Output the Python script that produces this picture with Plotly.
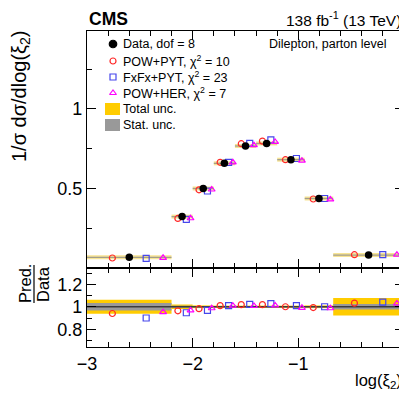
import plotly.graph_objects as go

# bins in log(xi_2)
bin_edges = [-3.0, -2.2, -2.0, -1.8, -1.6, -1.4, -1.2, -0.94, -0.67, 0.0]
data_vals = [0.067, 0.323, 0.500, 0.658, 0.767, 0.783, 0.681, 0.437, 0.081]
# relative uncertainties (ratio panel band half-heights)
tot_unc = [0.063, 0.020, 0.012, 0.010, 0.010, 0.010, 0.010, 0.012, 0.078]
stat_unc = [0.033, 0.010, 0.006, 0.005, 0.005, 0.005, 0.005, 0.006, 0.025]
# prediction / data
ratio_powpyt = [0.940, 0.964, 0.983, 1.010, 1.019, 1.019, 1.000, 0.993, 1.032]
ratio_fxfx = [0.900, 0.947, 0.968, 1.010, 1.022, 1.028, 1.011, 1.000, 1.041]
ratio_powher = [0.952, 0.968, 0.987, 1.010, 1.007, 1.012, 0.991, 0.987, 1.030]

models = [
    ("POW+PYT", ratio_powpyt, "circle-open", "rgb(255,40,40)", 0.3),
    ("FxFx+PYT", ratio_fxfx, "square-open", "rgb(70,70,235)", 0.7),
    ("POW+HER", ratio_powher, "triangle-up-open", "rgb(255,0,255)", 0.9),
]

GOLD = "rgb(255,204,0)"
GREY = "rgb(153,153,153)"
FONT = "Liberation Sans, Arial, sans-serif"

# the page body adds an 8px margin, so the figure is 8px smaller than the window
OFF = 8
W, H = 407 - OFF, 394 - OFF
# plot frame in window pixels
FX0, FX1, FY0, FY1 = 87, 404, 31, 347
L, R, T, B = FX0 - OFF, W + OFF - FX1, FY0 - OFF, H + OFF - FY1


def paper(x, y):
    """window pixel position -> paper coords"""
    return (x - FX0) / (FX1 - FX0), (FY1 - y) / (FY1 - FY0)


lo = bin_edges[:-1]
hi = bin_edges[1:]


def at(frac):
    return [a + frac * (b - a) for a, b in zip(lo, hi)]


fig = go.Figure()

# main panel: uncertainty bands drawn as thin strips across each bin
bx, by = [], []
for a, b, v in zip(lo, hi, data_vals):
    bx += [a, b, None]
    by += [v, v, None]
fig.add_trace(go.Scatter(x=bx, y=by, mode="lines", xaxis="x", yaxis="y",
                         line=dict(color="rgba(240,205,60,0.55)", width=4),
                         hoverinfo="skip", showlegend=False))
fig.add_trace(go.Scatter(x=bx, y=by, mode="lines", xaxis="x", yaxis="y",
                         line=dict(color="rgba(140,140,140,0.8)", width=1.3),
                         hoverinfo="skip", showlegend=False))

for name, ratio, sym, col, f in models:
    fig.add_trace(go.Scatter(
        x=at(f), y=[d * r for d, r in zip(data_vals, ratio)], mode="markers",
        xaxis="x", yaxis="y", showlegend=False,
        marker=dict(symbol=sym, size=6, color=col, line=dict(color=col, width=1.2))))

fig.add_trace(go.Scatter(x=at(0.5), y=data_vals, mode="markers", xaxis="x", yaxis="y",
                         marker=dict(symbol="circle", size=7.5, color="black"),
                         showlegend=False))

# ratio panel bands
for a, b, t, s in zip(lo, hi, tot_unc, stat_unc):
    for u, c in ((t, GOLD), (s, GREY)):
        fig.add_trace(go.Scatter(
            x=[a, b, b, a, a], y=[1 - u, 1 - u, 1 + u, 1 + u, 1 - u],
            xaxis="x2", yaxis="y2", mode="lines", fill="toself", fillcolor=c,
            line=dict(width=0), hoverinfo="skip", showlegend=False))
fig.add_trace(go.Scatter(x=[bin_edges[0], bin_edges[-1]], y=[1, 1], mode="lines",
                         xaxis="x2", yaxis="y2", line=dict(color="rgb(60,60,60)", width=1.5),
                         hoverinfo="skip", showlegend=False))
for name, ratio, sym, col, f in models:
    fig.add_trace(go.Scatter(
        x=at(f), y=ratio, mode="markers", xaxis="x2", yaxis="y2", showlegend=False,
        marker=dict(symbol=sym, size=6, color=col, line=dict(color=col, width=1.2))))

# hand-made legend (ROOT style)
leg_rows = [44, 61, 77, 93, 109, 125]
leg_text = ["Data, dof = 8", "POW+PYT, \u03c7<sup>2</sup> = 10",
            "FxFx+PYT, \u03c7<sup>2</sup> = 23", "POW+HER, \u03c7<sup>2</sup> = 7",
            "Total unc.", "Stat. unc."]
leg_marks = [("circle", 7.5, "black")] + [(m[2], 6, m[3]) for m in models]
for (sym, sz, col), yy in zip(leg_marks, leg_rows):
    px_, py_ = paper(113, yy)
    fig.add_trace(go.Scatter(x=[px_], y=[py_], mode="markers", xaxis="x3", yaxis="y3",
                             marker=dict(symbol=sym, size=sz, color=col,
                                         line=dict(color=col, width=1.2)),
                             showlegend=False, hoverinfo="skip"))
shapes = []
for yy, c in ((leg_rows[4], GOLD), (leg_rows[5], GREY)):
    x0, y0 = paper(105, yy - 6)
    x1, y1 = paper(120, yy + 6)
    shapes.append(dict(type="rect", xref="paper", yref="paper", x0=x0, x1=x1,
                       y0=y0, y1=y1, fillcolor=c, line=dict(width=0)))

annotations = []
for txt, yy in zip(leg_text, leg_rows):
    xx, yp = paper(121, yy)
    annotations.append(dict(x=xx, y=yp, xref="paper", yref="paper", text=txt,
                            showarrow=False, xanchor="left", yanchor="middle",
                            font=dict(size=12.5, color="black")))

def note(x, y, text, size, xanchor="center", yanchor="middle", angle=0):
    xx, yy = paper(x, y)
    annotations.append(dict(x=xx, y=yy, xref="paper", yref="paper", text=text,
                            showarrow=False, xanchor=xanchor, yanchor=yanchor,
                            textangle=angle, font=dict(size=size, color="black")))

note(87, 19, "<b>CMS</b>", 17.5, xanchor="left")
note(403, 19, "138 fb<sup>-1</sup> (13 TeV)", 15.5, xanchor="right")
note(388, 44, "Dilepton, parton level", 12.5, xanchor="right")
note(20, 96, "1/\u03c3 d\u03c3/dlog(\u03be<sub>2</sub>)", 20, angle=-90)
note(404, 381, "log(\u03be<sub>2</sub>)", 16.5, xanchor="right")
note(25, 284, "Pred.", 16.5, angle=-90)
note(43, 284, "Data", 16.5, angle=-90)
fx, fy0 = paper(34, 265)
_, fy1 = paper(34, 303)
shapes.append(dict(type="line", xref="paper", yref="paper", x0=fx, x1=fx, y0=fy0, y1=fy1,
                   line=dict(color="black", width=1.2)))

common_ax = dict(showline=True, linecolor="black", linewidth=1.2, mirror="allticks",
                 ticks="inside", tickcolor="black", tickwidth=1.2, ticklen=9,
                 showgrid=False, zeroline=False, tickfont=dict(size=18, color="black"))

fig.update_layout(
    width=W, height=H,
    margin=dict(l=L, r=R, t=T, b=B),
    paper_bgcolor="white", plot_bgcolor="rgba(0,0,0,0)",
    font=dict(family=FONT, color="black"),
    showlegend=False,
    xaxis=dict(common_ax, domain=[0, 1], anchor="y", range=[-3, 0], dtick=1, tick0=-3,
               showticklabels=False, matches="x2",
               minor=dict(dtick=0.2, tick0=-3, ticks="inside", ticklen=5,
                          tickcolor="black", tickwidth=1)),
    yaxis=dict(common_ax, domain=[0.25, 1], anchor="x", range=[0, 1.49],
               tickvals=[0.5, 1], ticktext=["0.5", "1"],
               minor=dict(dtick=0.25, tick0=0, ticks="inside", ticklen=5,
                          tickcolor="black", tickwidth=1)),
    xaxis2=dict(common_ax, domain=[0, 1], anchor="y2", range=[-3, 0], dtick=1, tick0=-3,
                tickformat="d",
                minor=dict(dtick=0.2, tick0=-3, ticks="inside", ticklen=5,
                           tickcolor="black", tickwidth=1)),
    yaxis2=dict(common_ax, domain=[0, 0.25], anchor="x2", range=[0.642, 1.345],
                tickvals=[0.8, 1, 1.2], ticktext=["0.8", "1", "1.2"],
                minor=dict(dtick=0.1, tick0=0, ticks="inside", ticklen=5,
                           tickcolor="black", tickwidth=1)),
    xaxis3=dict(domain=[0, 1], anchor="y3", range=[0, 1], visible=False, fixedrange=True),
    yaxis3=dict(domain=[0, 1], anchor="x3", range=[0, 1], visible=False, fixedrange=True),
    shapes=shapes,
    annotations=annotations,
)

fig.write_html("out.html")
